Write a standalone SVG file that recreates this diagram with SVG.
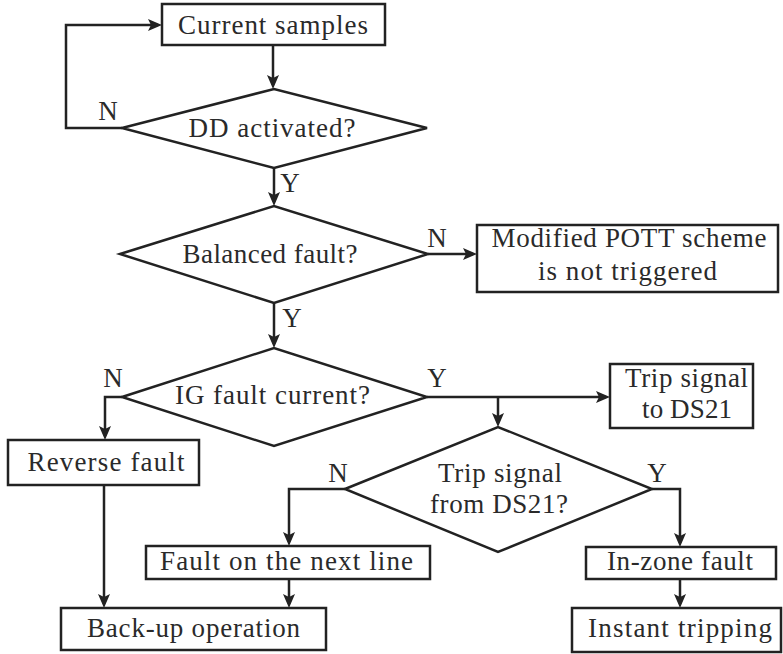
<svg xmlns="http://www.w3.org/2000/svg" width="783" height="654" viewBox="0 0 783 654">
<defs>
<style>
.n{fill:#fff;stroke:#222;stroke-width:2.5}
.t{font-family:"Liberation Serif","Times New Roman",serif;font-size:27px;fill:#2a2a2a;text-anchor:middle}
.c path{fill:none;stroke:#222;stroke-width:2.5;marker-end:url(#ah)}
</style>
<marker id="ah" markerUnits="userSpaceOnUse" markerWidth="16" markerHeight="14" refX="10" refY="6" orient="auto">
<path d="M0,0 L14,6 L0,12 L3,6 z" fill="#222"/>
</marker>
</defs>
<rect width="783" height="654" fill="#fff"/>
<g class="c" id="connectors">
<path d="M273,45 V85"/>
<path d="M122,128 H66 V25 H158"/>
<path d="M274,168 V202"/>
<path d="M428,254 H473"/>
<path d="M274,303 V344"/>
<path d="M122,397 H105 V436"/>
<path d="M427,397 H606"/>
<path d="M498,397 V423"/>
<path d="M345,489 H289 V542"/>
<path d="M652,489 H680 V543"/>
<path d="M104,485 V604"/>
<path d="M289,579 V604"/>
<path d="M680,579 V604"/>
</g>
<g id="current"><rect class="n" x="162" y="4" width="223" height="41"/><text class="t" x="273" y="34" textLength="190">Current samples</text></g>
<g id="dd"><polygon class="n" points="122,128 274,89 427,128 274,168"/><text class="t" x="272" y="137" textLength="167">DD activated?</text></g>
<g id="balanced"><polygon class="n" points="120,254 274,206 428,254 274,303"/><text class="t" x="270" y="263" textLength="175">Balanced fault?</text></g>
<g id="modified"><rect class="n" x="477" y="225" width="301" height="67"/><text class="t" x="629" y="247" textLength="275">Modified POTT scheme</text><text class="t" x="627.5" y="280" textLength="179">is not triggered</text></g>
<g id="ig"><polygon class="n" points="122,397 274,348 427,397 274,446"/><text class="t" x="272.5" y="404" textLength="195">IG fault current?</text></g>
<g id="tripto"><rect class="n" x="610" y="364" width="143" height="64"/><text class="t" x="686.5" y="387" textLength="123">Trip signal</text><text class="t" x="687" y="418" textLength="90">to DS21</text></g>
<g id="reverse"><rect class="n" x="8" y="440" width="191" height="45"/><text class="t" x="106" y="471" textLength="157">Reverse fault</text></g>
<g id="tripfrom"><polygon class="n" points="345,489 498,427 652,489 498,552"/><text class="t" x="500" y="482" textLength="124">Trip signal</text><text class="t" x="499" y="513" textLength="138">from DS21?</text></g>
<g id="nextline"><rect class="n" x="146" y="546" width="284" height="33"/><text class="t" x="286.5" y="570" textLength="253">Fault on the next line</text></g>
<g id="backup"><rect class="n" x="61" y="608" width="265" height="42"/><text class="t" x="193.5" y="637" textLength="213">Back-up operation</text></g>
<g id="inzone"><rect class="n" x="586" y="547" width="190" height="32"/><text class="t" x="680" y="570" textLength="146">In-zone fault</text></g>
<g id="instant"><rect class="n" x="572" y="608" width="209" height="44"/><text class="t" x="680" y="637" textLength="184">Instant tripping</text></g>
<g id="labels">
<text class="t" x="108" y="120">N</text>
<text class="t" x="290" y="192">Y</text>
<text class="t" x="437" y="247">N</text>
<text class="t" x="292" y="327">Y</text>
<text class="t" x="113" y="387">N</text>
<text class="t" x="437" y="387">Y</text>
<text class="t" x="338" y="482">N</text>
<text class="t" x="657" y="482">Y</text>
</g>
</svg>
